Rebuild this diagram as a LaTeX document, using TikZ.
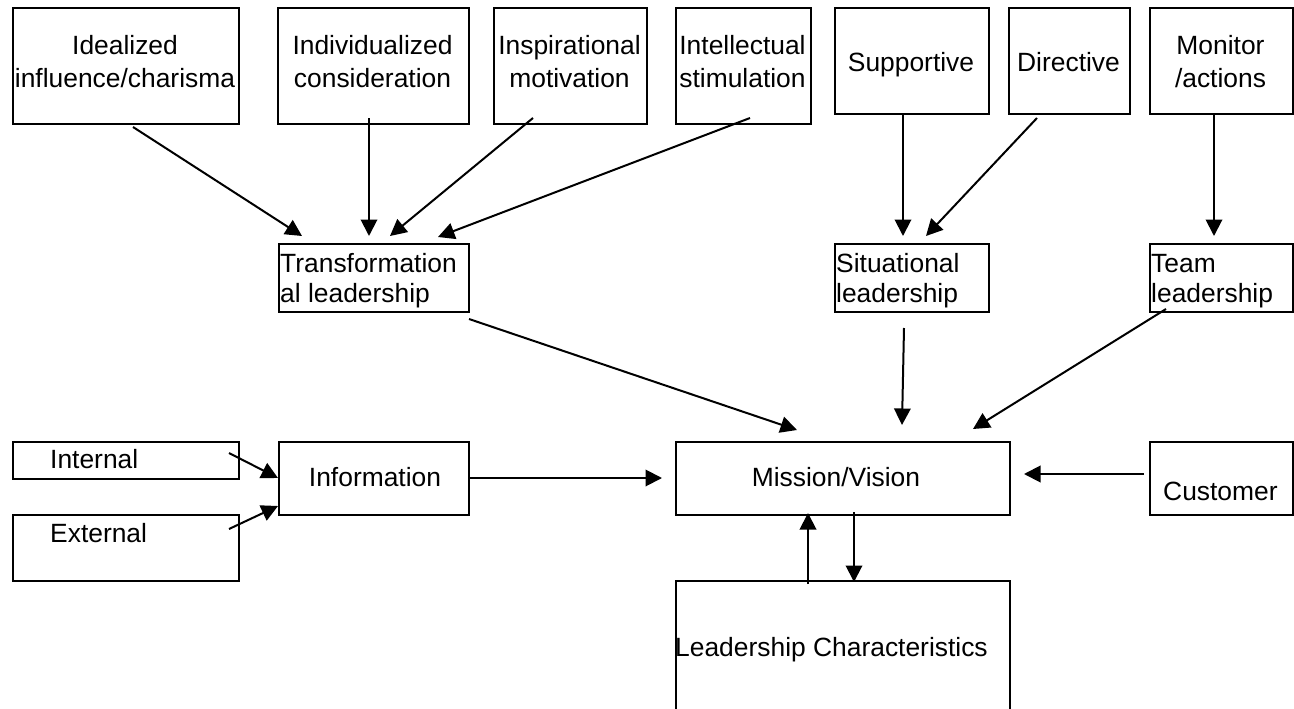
\documentclass[tikz,border=0pt]{standalone}
\usepackage{fontspec}
\setmainfont{Liberation Sans}
\usetikzlibrary{arrows.meta}
\newcommand{\fsA}{\fontsize{26.4}{33}\selectfont}
\newcommand{\fsB}{\fontsize{26.4}{30}\selectfont}
\tikzset{
  box/.style={draw, line width=2.2pt, inner sep=0pt, anchor=north west},
  lbl/.style={inner sep=0pt, font=\fsA},
  lblB/.style={inner sep=0pt, font=\fsB},
  arr/.style={line width=2pt, -{Triangle[length=16.5pt,width=16.5pt]}}
}
\begin{document}
\begin{tikzpicture}[x=1pt,y=-1pt]
\useasboundingbox (0,0) rectangle (1294,709);
\clip (0,0) rectangle (1294,709);
% boxes
\node[box, minimum width=226, minimum height=116] (idl) at (12,7) {};
\node[box, minimum width=191, minimum height=116] (ind) at (277,7) {};
\node[box, minimum width=153, minimum height=116] (insp) at (493,7) {};
\node[box, minimum width=135, minimum height=116] (intel) at (675,7) {};
\node[box, minimum width=154, minimum height=106] (sup) at (834,7) {};
\node[box, minimum width=121, minimum height=106] (dir) at (1008,7) {};
\node[box, minimum width=143, minimum height=106] (mon) at (1149,7) {};
\node[box, minimum width=190, minimum height=68] (tra) at (278,243) {};
\node[box, minimum width=154, minimum height=68] (sit) at (834,243) {};
\node[box, minimum width=143, minimum height=68] (team) at (1149,243) {};
\node[box, minimum width=226, minimum height=37] (int) at (12,441) {};
\node[box, minimum width=226, minimum height=66] (ext) at (12,514) {};
\node[box, minimum width=190, minimum height=73] (info) at (278,441) {};
\node[box, minimum width=334, minimum height=73] (mis) at (675,441) {};
\node[box, minimum width=143, minimum height=73] (cus) at (1149,441) {};
\node[box, minimum width=334, minimum height=140] (lead) at (675,580) {};
% texts
\node[lbl, anchor=base] (idlT) at (125,55) {\begin{tabular}[t]{@{}c@{}}Idealized\\influence/charisma\end{tabular}};
\node[lbl, anchor=base] (indT) at (372.5,55) {\begin{tabular}[t]{@{}c@{}}Individualized\\consideration\end{tabular}};
\node[lbl, anchor=base] (inspT) at (569.5,55) {\begin{tabular}[t]{@{}c@{}}Inspirational\\motivation\end{tabular}};
\node[lbl, anchor=base] (intelT) at (742.5,55) {\begin{tabular}[t]{@{}c@{}}Intellectual\\stimulation\end{tabular}};
\node[lbl, anchor=base] (supT) at (911,72) {Supportive};
\node[lbl, anchor=base] (dirT) at (1068.5,72) {Directive};
\node[lbl, anchor=base] (monT) at (1220.5,55) {\begin{tabular}[t]{@{}c@{}}Monitor\\/actions\end{tabular}};
\node[lblB, anchor=base west] (traT) at (280,272) {\begin{tabular}[t]{@{}l@{}}Transformation\\al leadership\end{tabular}};
\node[lblB, anchor=base west] (sitT) at (836,272) {\begin{tabular}[t]{@{}l@{}}Situational\\leadership\end{tabular}};
\node[lblB, anchor=base west] (teamT) at (1151,272) {\begin{tabular}[t]{@{}l@{}}Team\\leadership\end{tabular}};
\node[lbl, anchor=base west] (intT) at (50,468) {Internal};
\node[lbl, anchor=base west] (extT) at (50,542) {External};
\node[lbl, anchor=base] (infoT) at (375,486) {Information};
\node[lbl, anchor=base] (misT) at (836,486) {Mission/Vision};
\node[lbl, anchor=base west] (cusT) at (1163,500) {Customer};
\node[lbl, anchor=base west] (leadT) at (675,656) {Leadership Characteristics};
% connector end points
\coordinate (s1) at (133,127);  \coordinate (e1) at (302,236);
\coordinate (s2) at (369,118);  \coordinate (e2) at (369,236);
\coordinate (s3) at (533,118);  \coordinate (e3) at (390,236);
\coordinate (s4) at (750,118);  \coordinate (e4) at (438,237);
\coordinate (s5) at (903,113);  \coordinate (e5) at (903,236);
\coordinate (s6) at (1037,118); \coordinate (e6) at (926,236);
\coordinate (s7) at (1214,113); \coordinate (e7) at (1214,236);
\coordinate (s8) at (469,319);  \coordinate (e8) at (797,430);
\coordinate (s9) at (904,328);  \coordinate (e9) at (902,425);
\coordinate (s10) at (1166,309); \coordinate (e10) at (973,429);
\coordinate (s11) at (229,453); \coordinate (e11) at (278,478);
\coordinate (s12) at (229,529); \coordinate (e12) at (278,506);
\coordinate (s13) at (470,478); \coordinate (e13) at (662,478);
\coordinate (s14) at (1144,474); \coordinate (e14) at (1024,474);
\coordinate (s15) at (808,584); \coordinate (e15) at (808,513);
\coordinate (s16) at (854,512); \coordinate (e16) at (854,582);
% connectors
\draw[arr] (s1) -- (e1);
\draw[arr] (s2) -- (e2);
\draw[arr] (s3) -- (e3);
\draw[arr] (s4) -- (e4);
\draw[arr] (s5) -- (e5);
\draw[arr] (s6) -- (e6);
\draw[arr] (s7) -- (e7);
\draw[arr] (s8) -- (e8);
\draw[arr] (s9) -- (e9);
\draw[arr] (s10) -- (e10);
\draw[arr] (s11) -- (e11);
\draw[arr] (s12) -- (e12);
\draw[arr] (s13) -- (e13);
\draw[arr] (s14) -- (e14);
\draw[arr] (s15) -- (e15);
\draw[arr] (s16) -- (e16);
\end{tikzpicture}
\end{document}
